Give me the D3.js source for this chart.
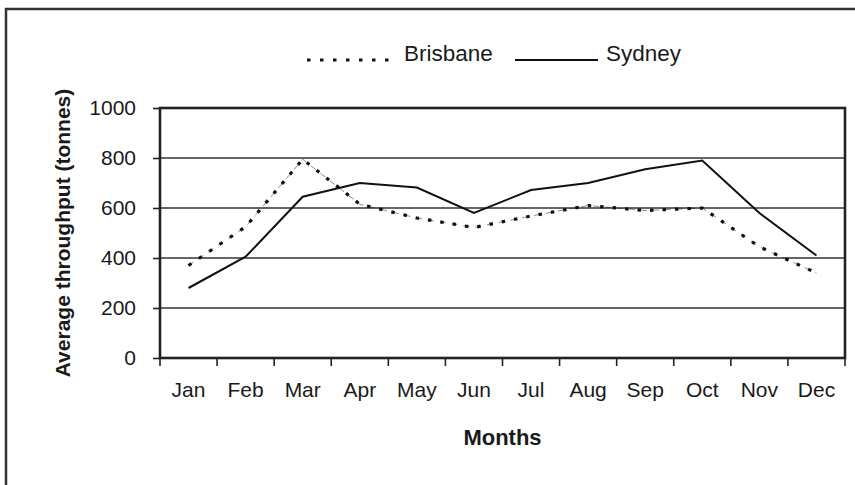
<!DOCTYPE html>
<html><head><meta charset="utf-8">
<script src="https://cdn.jsdelivr.net/npm/d3@7"></script>
<style>body{margin:0;background:#fff}svg{display:block;font-family:Arial,"Liberation Sans",sans-serif}</style>
</head><body>
<svg id="c" width="855" height="485"></svg>
<script>
const months = ["Jan","Feb","Mar","Apr","May","Jun","Jul","Aug","Sep","Oct","Nov","Dec"];
const brisbane = [370,525,795,615,560,522,568,610,590,600,445,340];
const sydney = [280,405,645,700,682,580,672,700,755,790,580,410];
const yTicks = [0,200,400,600,800,1000];
const seriesNames = ["Brisbane","Sydney"];

const svg = d3.select("#c");
const m = {left:160, right:845, top:108, bottom:358};
const x = d3.scaleBand().domain(months).range([m.left, m.right]);
const y = d3.scaleLinear().domain([0,1000]).range([m.bottom, m.top]);
const ink = "#222";
const ff = "Arial,'Liberation Sans',sans-serif";

// outer frame
svg.append("path").attr("d","M6,490 L6,9 L860,9").attr("fill","none").attr("stroke","#333").attr("stroke-width",2.5);

// gridlines
svg.append("g").selectAll("line").data(yTicks.filter(d=>d>0&&d<1000)).join("line")
  .attr("x1",m.left).attr("x2",m.right).attr("y1",d=>y(d)).attr("y2",d=>y(d))
  .attr("stroke","#333").attr("stroke-width",1.6);

// y axis
const ya = svg.append("g").attr("transform",`translate(${m.left},0)`)
  .call(d3.axisLeft(y).tickValues(yTicks).tickSize(7).tickPadding(17).tickFormat(d3.format("d")));
ya.select(".domain").remove();
ya.selectAll("line").attr("stroke",ink).attr("stroke-width",1.6);
ya.selectAll("text").attr("font-size",21).attr("fill","#1a1a1a").attr("font-family",ff);

// x axis with ticks at band boundaries
const xa = svg.append("g").attr("transform",`translate(0,${m.bottom})`)
  .call(d3.axisBottom(x).tickSize(0).tickPadding(24));
xa.select(".domain").remove();
xa.selectAll("text").attr("font-size",21).attr("fill","#1a1a1a").attr("font-family",ff);
const bounds = months.map(d=>x(d)).concat([x.range()[1]]);
svg.append("g").selectAll("line").data(bounds).join("line")
  .attr("x1",d=>d).attr("x2",d=>d).attr("y1",m.bottom).attr("y2",m.bottom+8)
  .attr("stroke",ink).attr("stroke-width",1.6);

// plot frame
svg.append("rect").attr("x",m.left).attr("y",m.top).attr("width",m.right-m.left).attr("height",m.bottom-m.top)
  .attr("fill","none").attr("stroke",ink).attr("stroke-width",2.6);

const line = d3.line().x((d,i)=>x(months[i])+x.bandwidth()/2).y(d=>y(d));
svg.append("path").datum(sydney).attr("d",line).attr("fill","none").attr("stroke","#111").attr("stroke-width",2);
svg.append("path").datum(brisbane).attr("d",line).attr("fill","none").attr("stroke","#111").attr("stroke-width",0.8).attr("stroke-dasharray","6,6").attr("opacity",0.6);
svg.append("path").datum(brisbane).attr("d",line).attr("fill","none").attr("stroke","#111").attr("stroke-width",3.2).attr("stroke-dasharray","3.5,9");

// legend
svg.append("line").attr("x1",307).attr("x2",393).attr("y1",60).attr("y2",60).attr("stroke","#111").attr("stroke-width",3.2).attr("stroke-dasharray","3.5,9.5");
svg.append("text").attr("x",404).attr("y",61).attr("font-size",22.5).attr("fill","#1a1a1a").text(seriesNames[0]);
svg.append("line").attr("x1",515).attr("x2",598).attr("y1",60).attr("y2",60).attr("stroke","#111").attr("stroke-width",2);
svg.append("text").attr("x",606).attr("y",61).attr("font-size",22.5).attr("fill","#1a1a1a").text(seriesNames[1]);

// titles
svg.append("text").attr("x",(m.left+m.right)/2).attr("y",445).attr("text-anchor","middle")
  .attr("font-size",22).attr("font-weight","bold").attr("fill","#1a1a1a").text("Months");
svg.append("text").attr("transform",`translate(70,${(m.top+m.bottom)/2}) rotate(-90)`).attr("text-anchor","middle")
  .attr("font-size",21).attr("font-weight","bold").attr("fill","#1a1a1a").text("Average throughput (tonnes)");
</script>
</body></html>
